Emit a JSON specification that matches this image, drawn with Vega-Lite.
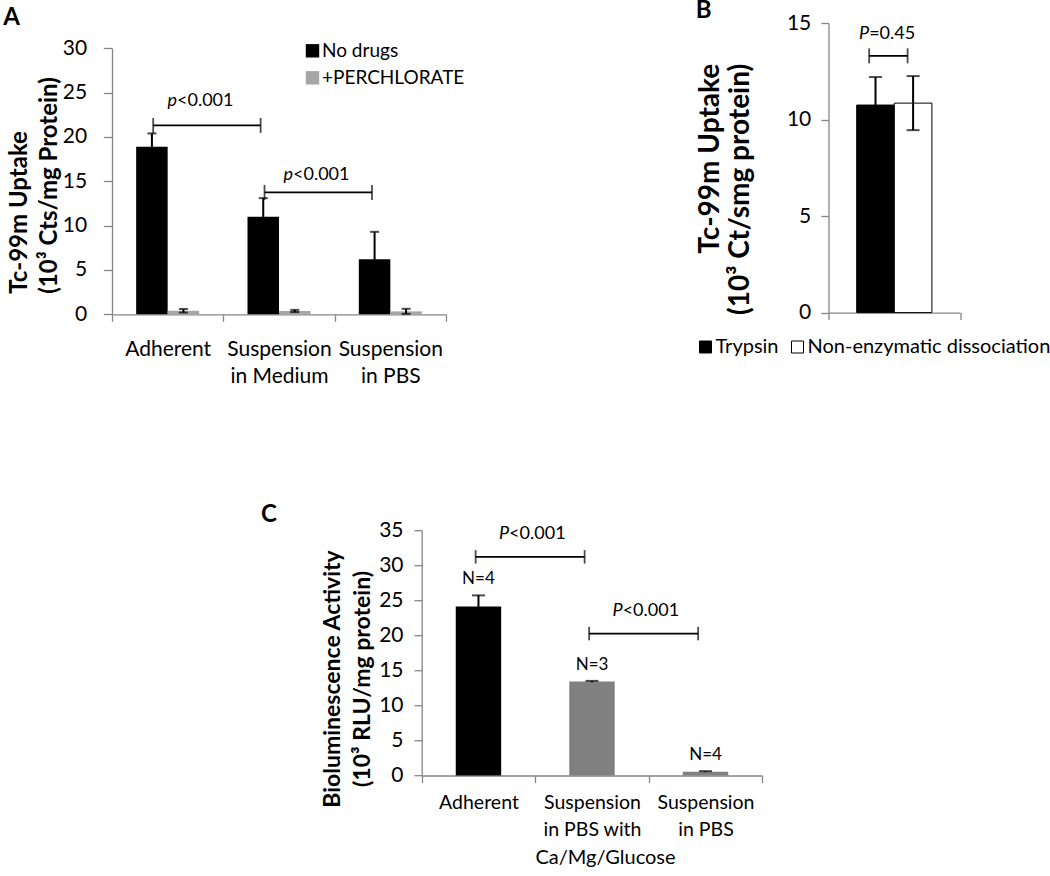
{
  "$schema": "https://vega.github.io/schema/vega-lite/v6.json",
  "background": "white",
  "padding": {"left": 3, "top": -2, "right": 0, "bottom": 0},
  "config": {
    "font": "Lato",
    "view": {"stroke": null},
    "axis": {"domainColor": "#868686", "tickColor": "#868686", "domainWidth": 1.3, "tickWidth": 1.3, "labelColor": "#000000", "titleColor": "#000000", "labelFont": "Lato", "titleFont": "Lato", "grid": false, "labelFontSize": 21},
    "legend": {"labelFont": "Lato", "labelColor": "#000000"},
    "title": {"font": "Lato", "fontSize": 24, "fontWeight": "bold", "color": "#000000", "anchor": "start", "frame": "group"}
  },
  "datasets": {
    "a_bars": [
      {"cat": "Adherent", "series": "No drugs", "value": 18.9, "lo": 17.4, "hi": 20.4},
      {"cat": "Adherent", "series": "+PERCHLORATE", "value": 0.4, "lo": 0.2, "hi": 0.6},
      {"cat": "Suspension in Medium", "series": "No drugs", "value": 11.0, "lo": 8.9, "hi": 13.1},
      {"cat": "Suspension in Medium", "series": "+PERCHLORATE", "value": 0.38, "lo": 0.25, "hi": 0.5},
      {"cat": "Suspension in PBS", "series": "No drugs", "value": 6.2, "lo": 3.1, "hi": 9.3},
      {"cat": "Suspension in PBS", "series": "+PERCHLORATE", "value": 0.33, "lo": 0.05, "hi": 0.62}
    ],
    "a_br": [
      {"id": 1, "from": "Adherent", "to": "Suspension in Medium", "y": 21.3},
      {"id": 2, "from": "Suspension in Medium", "to": "Suspension in PBS", "y": 13.75}
    ],
    "b_bars": [
      {"cat": "Cells", "series": "Trypsin", "value": 10.75, "lo": 9.3, "hi": 12.2},
      {"cat": "Cells", "series": "Non-enzymatic dissociation", "value": 10.85, "lo": 9.45, "hi": 12.25}
    ],
    "b_br": [
      {"from": "Cells", "to": "Cells", "y": 13.3}
    ],
    "c_bars": [
      {"cat": "Adherent", "value": 24.1, "lo": 22.5, "hi": 25.7, "n": "N=4"},
      {"cat": "Suspension in PBS with Ca/Mg/Glucose", "value": 13.4, "lo": 13.3, "hi": 13.5, "n": "N=3"},
      {"cat": "Suspension in PBS", "value": 0.55, "lo": 0.48, "hi": 0.62, "n": "N=4"}
    ],
    "c_br": [
      {"from": "Adherent", "to": "Suspension in PBS with Ca/Mg/Glucose", "y": 31.2},
      {"from": "Suspension in PBS with Ca/Mg/Glucose", "to": "Suspension in PBS", "y": 20.25}
    ]
  },
  "resolve": {
    "scale": {"x": "independent", "y": "independent", "color": "independent", "xOffset": "independent"},
    "axis": {"x": "independent", "y": "independent"},
    "legend": {"color": "independent"}
  },
  "vconcat": [
    {
      "spacing": 230.5,
      "resolve": {
        "scale": {"x": "independent", "y": "independent", "color": "independent", "xOffset": "independent"},
        "axis": {"x": "independent", "y": "independent"},
        "legend": {"color": "independent"}
      },
      "hconcat": [
        {
          "width": 334,
          "height": 291.3,
          "title": {"text": "A", "dx": -108.7, "offset": -25.6, "baseline": "alphabetic"},
          "layer": [
            {
              "data": {"name": "a_bars"},
              "mark": {"type": "bar"},
              "encoding": {
                "x": {"field": "cat", "type": "nominal", "scale": {"domain": ["Adherent", "Suspension in Medium", "Suspension in PBS"], "paddingInner": 0, "paddingOuter": 0},
                  "axis": {"title": null, "labelAngle": 0, "labelFontSize": 21, "labelPadding": 17.5, "labelLineHeight": 27, "tickBand": "extent", "tickSize": 7, "labelExpr": "!datum.value ? '' : datum.value == 'Adherent' ? 'Adherent' : ['Suspension', replace(datum.value, 'Suspension ', '')]"}},
                "xOffset": {"field": "series", "type": "nominal", "scale": {"domain": ["No drugs", "+PERCHLORATE"], "paddingInner": 0, "paddingOuter": 0.767}},
                "y": {"field": "value", "type": "quantitative", "scale": {"domain": [0, 30], "range": [291.3, 25.3], "nice": false},
                  "axis": {"values": [0, 5, 10, 15, 20, 25, 30], "tickSize": 8.7, "labelPadding": 16.6, "labelFontSize": 21, "title": ["Tc-99m Uptake", "(10³ Cts/mg Protein)"], "titleFontSize": 24, "titleFontWeight": "bold", "titleLineHeight": 30, "titleAlign": "left", "titleX": -81, "titleY": 270.3, "titlePadding": 5}},
                "color": {"field": "series", "type": "nominal", "scale": {"domain": ["No drugs", "+PERCHLORATE"], "range": ["#000000", "#a6a6a6"]},
                  "legend": {"title": null, "orient": "none", "legendX": 191, "legendY": 18.3, "symbolType": "square", "symbolSize": 180, "symbolStrokeWidth": 0, "labelFontSize": 19, "rowPadding": 7, "labelOffset": 0}}
              }
            },
            {
              "data": {"name": "a_bars"},
              "mark": {"type": "rule", "color": "#000000", "strokeWidth": 2},
              "encoding": {
                "x": {"field": "cat", "type": "nominal", "scale": {"domain": ["Adherent", "Suspension in Medium", "Suspension in PBS"], "paddingInner": 0, "paddingOuter": 0},
                  "axis": {"title": null, "labelAngle": 0, "labelFontSize": 21, "labelPadding": 17.5, "labelLineHeight": 27, "tickBand": "extent", "tickSize": 7, "labelExpr": "!datum.value ? '' : datum.value == 'Adherent' ? 'Adherent' : ['Suspension', replace(datum.value, 'Suspension ', '')]"}},
                "xOffset": {"field": "series", "type": "nominal", "scale": {"domain": ["No drugs", "+PERCHLORATE"], "paddingInner": 0, "paddingOuter": 0.767}},
                "y": {"field": "lo", "type": "quantitative", "scale": {"domain": [0, 30], "range": [291.3, 25.3], "nice": false},
                  "axis": {"values": [0, 5, 10, 15, 20, 25, 30], "tickSize": 8.7, "labelPadding": 16.6, "labelFontSize": 21, "title": ["Tc-99m Uptake", "(10³ Cts/mg Protein)"], "titleFontSize": 24, "titleFontWeight": "bold", "titleLineHeight": 30, "titleAlign": "left", "titleX": -81, "titleY": 270.3, "titlePadding": 5}},
                "y2": {"field": "hi"}
              }
            },
            {
              "data": {"name": "a_bars"},
              "mark": {"type": "tick", "color": "#000000", "size": 9, "thickness": 2},
              "encoding": {
                "x": {"field": "cat", "type": "nominal", "scale": {"domain": ["Adherent", "Suspension in Medium", "Suspension in PBS"], "paddingInner": 0, "paddingOuter": 0},
                  "axis": {"title": null, "labelAngle": 0, "labelFontSize": 21, "labelPadding": 17.5, "labelLineHeight": 27, "tickBand": "extent", "tickSize": 7, "labelExpr": "!datum.value ? '' : datum.value == 'Adherent' ? 'Adherent' : ['Suspension', replace(datum.value, 'Suspension ', '')]"}},
                "xOffset": {"field": "series", "type": "nominal", "scale": {"domain": ["No drugs", "+PERCHLORATE"], "paddingInner": 0, "paddingOuter": 0.767}},
                "y": {"field": "hi", "type": "quantitative", "scale": {"domain": [0, 30], "range": [291.3, 25.3], "nice": false},
                  "axis": {"values": [0, 5, 10, 15, 20, 25, 30], "tickSize": 8.7, "labelPadding": 16.6, "labelFontSize": 21, "title": ["Tc-99m Uptake", "(10³ Cts/mg Protein)"], "titleFontSize": 24, "titleFontWeight": "bold", "titleLineHeight": 30, "titleAlign": "left", "titleX": -81, "titleY": 270.3, "titlePadding": 5}}
              }
            },
            {
              "data": {"name": "a_bars"},
              "mark": {"type": "tick", "color": "#000000", "size": 9, "thickness": 2},
              "encoding": {
                "x": {"field": "cat", "type": "nominal", "scale": {"domain": ["Adherent", "Suspension in Medium", "Suspension in PBS"], "paddingInner": 0, "paddingOuter": 0},
                  "axis": {"title": null, "labelAngle": 0, "labelFontSize": 21, "labelPadding": 17.5, "labelLineHeight": 27, "tickBand": "extent", "tickSize": 7, "labelExpr": "!datum.value ? '' : datum.value == 'Adherent' ? 'Adherent' : ['Suspension', replace(datum.value, 'Suspension ', '')]"}},
                "xOffset": {"field": "series", "type": "nominal", "scale": {"domain": ["No drugs", "+PERCHLORATE"], "paddingInner": 0, "paddingOuter": 0.767}},
                "y": {"field": "lo", "type": "quantitative", "scale": {"domain": [0, 30], "range": [291.3, 25.3], "nice": false},
                  "axis": {"values": [0, 5, 10, 15, 20, 25, 30], "tickSize": 8.7, "labelPadding": 16.6, "labelFontSize": 21, "title": ["Tc-99m Uptake", "(10³ Cts/mg Protein)"], "titleFontSize": 24, "titleFontWeight": "bold", "titleLineHeight": 30, "titleAlign": "left", "titleX": -81, "titleY": 270.3, "titlePadding": 5}}
              }
            },
            {
              "data": {"name": "a_br"},
              "mark": {"type": "rule", "color": "#000000", "strokeWidth": 1.8},
              "encoding": {
                "x": {"field": "from", "type": "nominal", "bandPosition": 0.37, "scale": {"domain": ["Adherent", "Suspension in Medium", "Suspension in PBS"], "paddingInner": 0, "paddingOuter": 0},
                  "axis": {"title": null, "labelAngle": 0, "labelFontSize": 21, "labelPadding": 17.5, "labelLineHeight": 27, "tickBand": "extent", "tickSize": 7, "labelExpr": "!datum.value ? '' : datum.value == 'Adherent' ? 'Adherent' : ['Suspension', replace(datum.value, 'Suspension ', '')]"}},
                "x2": {"field": "to", "bandPosition": 0.335},
                "y": {"field": "y", "type": "quantitative", "scale": {"domain": [0, 30], "range": [291.3, 25.3], "nice": false},
                  "axis": {"values": [0, 5, 10, 15, 20, 25, 30], "tickSize": 8.7, "labelPadding": 16.6, "labelFontSize": 21, "title": ["Tc-99m Uptake", "(10³ Cts/mg Protein)"], "titleFontSize": 24, "titleFontWeight": "bold", "titleLineHeight": 30, "titleAlign": "left", "titleX": -81, "titleY": 270.3, "titlePadding": 5}}
              }
            },
            {
              "data": {"name": "a_br"},
              "mark": {"type": "tick", "orient": "vertical", "color": "#000000", "size": 15, "thickness": 1.8},
              "encoding": {
                "x": {"field": "from", "type": "nominal", "bandPosition": 0.37, "scale": {"domain": ["Adherent", "Suspension in Medium", "Suspension in PBS"], "paddingInner": 0, "paddingOuter": 0},
                  "axis": {"title": null, "labelAngle": 0, "labelFontSize": 21, "labelPadding": 17.5, "labelLineHeight": 27, "tickBand": "extent", "tickSize": 7, "labelExpr": "!datum.value ? '' : datum.value == 'Adherent' ? 'Adherent' : ['Suspension', replace(datum.value, 'Suspension ', '')]"}},
                "y": {"field": "y", "type": "quantitative", "scale": {"domain": [0, 30], "range": [291.3, 25.3], "nice": false},
                  "axis": {"values": [0, 5, 10, 15, 20, 25, 30], "tickSize": 8.7, "labelPadding": 16.6, "labelFontSize": 21, "title": ["Tc-99m Uptake", "(10³ Cts/mg Protein)"], "titleFontSize": 24, "titleFontWeight": "bold", "titleLineHeight": 30, "titleAlign": "left", "titleX": -81, "titleY": 270.3, "titlePadding": 5}}
              }
            },
            {
              "data": {"name": "a_br"},
              "mark": {"type": "tick", "orient": "vertical", "color": "#000000", "size": 15, "thickness": 1.8},
              "encoding": {
                "x": {"field": "to", "type": "nominal", "bandPosition": 0.335, "scale": {"domain": ["Adherent", "Suspension in Medium", "Suspension in PBS"], "paddingInner": 0, "paddingOuter": 0},
                  "axis": {"title": null, "labelAngle": 0, "labelFontSize": 21, "labelPadding": 17.5, "labelLineHeight": 27, "tickBand": "extent", "tickSize": 7, "labelExpr": "!datum.value ? '' : datum.value == 'Adherent' ? 'Adherent' : ['Suspension', replace(datum.value, 'Suspension ', '')]"}},
                "y": {"field": "y", "type": "quantitative", "scale": {"domain": [0, 30], "range": [291.3, 25.3], "nice": false},
                  "axis": {"values": [0, 5, 10, 15, 20, 25, 30], "tickSize": 8.7, "labelPadding": 16.6, "labelFontSize": 21, "title": ["Tc-99m Uptake", "(10³ Cts/mg Protein)"], "titleFontSize": 24, "titleFontWeight": "bold", "titleLineHeight": 30, "titleAlign": "left", "titleX": -81, "titleY": 270.3, "titlePadding": 5}}
              }
            },
            {
              "data": {"name": "a_br"},
              "transform": [{"filter": "datum.id == 1"}],
              "mark": {"type": "text", "text": "p", "fontStyle": "italic", "fontSize": 18, "align": "right", "baseline": "alphabetic", "dy": -19.5},
              "encoding": {
                "x": {"field": "from", "type": "nominal", "bandPosition": 0.584, "scale": {"domain": ["Adherent", "Suspension in Medium", "Suspension in PBS"], "paddingInner": 0, "paddingOuter": 0},
                  "axis": {"title": null, "labelAngle": 0, "labelFontSize": 21, "labelPadding": 17.5, "labelLineHeight": 27, "tickBand": "extent", "tickSize": 7, "labelExpr": "!datum.value ? '' : datum.value == 'Adherent' ? 'Adherent' : ['Suspension', replace(datum.value, 'Suspension ', '')]"}},
                "y": {"field": "y", "type": "quantitative", "scale": {"domain": [0, 30], "range": [291.3, 25.3], "nice": false},
                  "axis": {"values": [0, 5, 10, 15, 20, 25, 30], "tickSize": 8.7, "labelPadding": 16.6, "labelFontSize": 21, "title": ["Tc-99m Uptake", "(10³ Cts/mg Protein)"], "titleFontSize": 24, "titleFontWeight": "bold", "titleLineHeight": 30, "titleAlign": "left", "titleX": -81, "titleY": 270.3, "titlePadding": 5}}
              }
            },
            {
              "data": {"name": "a_br"},
              "transform": [{"filter": "datum.id == 1"}],
              "mark": {"type": "text", "text": "<0.001", "fontSize": 18, "align": "left", "baseline": "alphabetic", "dy": -19.5},
              "encoding": {
                "x": {"field": "from", "type": "nominal", "bandPosition": 0.584, "scale": {"domain": ["Adherent", "Suspension in Medium", "Suspension in PBS"], "paddingInner": 0, "paddingOuter": 0},
                  "axis": {"title": null, "labelAngle": 0, "labelFontSize": 21, "labelPadding": 17.5, "labelLineHeight": 27, "tickBand": "extent", "tickSize": 7, "labelExpr": "!datum.value ? '' : datum.value == 'Adherent' ? 'Adherent' : ['Suspension', replace(datum.value, 'Suspension ', '')]"}},
                "y": {"field": "y", "type": "quantitative", "scale": {"domain": [0, 30], "range": [291.3, 25.3], "nice": false},
                  "axis": {"values": [0, 5, 10, 15, 20, 25, 30], "tickSize": 8.7, "labelPadding": 16.6, "labelFontSize": 21, "title": ["Tc-99m Uptake", "(10³ Cts/mg Protein)"], "titleFontSize": 24, "titleFontWeight": "bold", "titleLineHeight": 30, "titleAlign": "left", "titleX": -81, "titleY": 270.3, "titlePadding": 5}}
              }
            },
            {
              "data": {"name": "a_br"},
              "transform": [{"filter": "datum.id == 2"}],
              "mark": {"type": "text", "text": "p", "fontStyle": "italic", "fontSize": 18, "align": "right", "baseline": "alphabetic", "dy": -12.7},
              "encoding": {
                "x": {"field": "from", "type": "nominal", "bandPosition": 0.626, "scale": {"domain": ["Adherent", "Suspension in Medium", "Suspension in PBS"], "paddingInner": 0, "paddingOuter": 0},
                  "axis": {"title": null, "labelAngle": 0, "labelFontSize": 21, "labelPadding": 17.5, "labelLineHeight": 27, "tickBand": "extent", "tickSize": 7, "labelExpr": "!datum.value ? '' : datum.value == 'Adherent' ? 'Adherent' : ['Suspension', replace(datum.value, 'Suspension ', '')]"}},
                "y": {"field": "y", "type": "quantitative", "scale": {"domain": [0, 30], "range": [291.3, 25.3], "nice": false},
                  "axis": {"values": [0, 5, 10, 15, 20, 25, 30], "tickSize": 8.7, "labelPadding": 16.6, "labelFontSize": 21, "title": ["Tc-99m Uptake", "(10³ Cts/mg Protein)"], "titleFontSize": 24, "titleFontWeight": "bold", "titleLineHeight": 30, "titleAlign": "left", "titleX": -81, "titleY": 270.3, "titlePadding": 5}}
              }
            },
            {
              "data": {"name": "a_br"},
              "transform": [{"filter": "datum.id == 2"}],
              "mark": {"type": "text", "text": "<0.001", "fontSize": 18, "align": "left", "baseline": "alphabetic", "dy": -12.7},
              "encoding": {
                "x": {"field": "from", "type": "nominal", "bandPosition": 0.626, "scale": {"domain": ["Adherent", "Suspension in Medium", "Suspension in PBS"], "paddingInner": 0, "paddingOuter": 0},
                  "axis": {"title": null, "labelAngle": 0, "labelFontSize": 21, "labelPadding": 17.5, "labelLineHeight": 27, "tickBand": "extent", "tickSize": 7, "labelExpr": "!datum.value ? '' : datum.value == 'Adherent' ? 'Adherent' : ['Suspension', replace(datum.value, 'Suspension ', '')]"}},
                "y": {"field": "y", "type": "quantitative", "scale": {"domain": [0, 30], "range": [291.3, 25.3], "nice": false},
                  "axis": {"values": [0, 5, 10, 15, 20, 25, 30], "tickSize": 8.7, "labelPadding": 16.6, "labelFontSize": 21, "title": ["Tc-99m Uptake", "(10³ Cts/mg Protein)"], "titleFontSize": 24, "titleFontWeight": "bold", "titleLineHeight": 30, "titleAlign": "left", "titleX": -81, "titleY": 270.3, "titlePadding": 5}}
              }
            }
          ]
        },
        {
          "width": 131.6,
          "height": 289.6,
          "title": {"text": "B", "dx": -132.7, "offset": -29.5, "baseline": "alphabetic"},
          "layer": [
            {
              "data": {"name": "b_bars"},
              "mark": {"type": "bar", "stroke": "#000000", "strokeWidth": 1},
              "encoding": {
                "x": {"field": "cat", "type": "nominal", "scale": {"domain": ["Cells"], "paddingInner": 0, "paddingOuter": 0}, "axis": {"title": null, "labels": false, "tickBand": "extent", "tickSize": 7}},
                "xOffset": {"field": "series", "type": "nominal", "scale": {"domain": ["Trypsin", "Non-enzymatic dissociation"], "paddingInner": 0, "paddingOuter": 0.75}},
                "y": {"field": "value", "type": "quantitative", "scale": {"domain": [0, 15], "nice": false},
                  "axis": {"values": [0, 5, 10, 15], "tickSize": 7.7, "labelPadding": 10, "labelFontSize": 21, "title": ["Tc-99m Uptake", "(10³ Ct/smg protein)"], "titleFontSize": 28, "titleFontWeight": "bold", "titleLineHeight": 30, "titleAlign": "right", "titleX": -104, "titleY": 40.3, "titlePadding": 22}},
                "color": {"field": "series", "type": "nominal", "scale": {"domain": ["Trypsin", "Non-enzymatic dissociation"], "range": ["#000000", "#ffffff"]},
                  "legend": {"title": null, "orient": "none", "direction": "horizontal", "legendX": -133, "legendY": 314, "symbolType": "square", "symbolSize": 144, "symbolStrokeColor": "#000000", "symbolStrokeWidth": 1, "labelFontSize": 20, "labelOffset": 0, "columnPadding": 8, "labelLimit": 400}}
              }
            },
            {
              "data": {"name": "b_bars"},
              "mark": {"type": "rule", "color": "#000000", "strokeWidth": 2},
              "encoding": {
                "x": {"field": "cat", "type": "nominal", "scale": {"domain": ["Cells"], "paddingInner": 0, "paddingOuter": 0}, "axis": {"title": null, "labels": false, "tickBand": "extent", "tickSize": 7}},
                "xOffset": {"field": "series", "type": "nominal", "scale": {"domain": ["Trypsin", "Non-enzymatic dissociation"], "paddingInner": 0, "paddingOuter": 0.75}},
                "y": {"field": "lo", "type": "quantitative", "scale": {"domain": [0, 15], "nice": false},
                  "axis": {"values": [0, 5, 10, 15], "tickSize": 7.7, "labelPadding": 10, "labelFontSize": 21, "title": ["Tc-99m Uptake", "(10³ Ct/smg protein)"], "titleFontSize": 28, "titleFontWeight": "bold", "titleLineHeight": 30, "titleAlign": "right", "titleX": -104, "titleY": 40.3, "titlePadding": 22}},
                "y2": {"field": "hi"}
              }
            },
            {
              "data": {"name": "b_bars"},
              "mark": {"type": "tick", "color": "#000000", "size": 13, "thickness": 2},
              "encoding": {
                "x": {"field": "cat", "type": "nominal", "scale": {"domain": ["Cells"], "paddingInner": 0, "paddingOuter": 0}, "axis": {"title": null, "labels": false, "tickBand": "extent", "tickSize": 7}},
                "xOffset": {"field": "series", "type": "nominal", "scale": {"domain": ["Trypsin", "Non-enzymatic dissociation"], "paddingInner": 0, "paddingOuter": 0.75}},
                "y": {"field": "hi", "type": "quantitative", "scale": {"domain": [0, 15], "nice": false},
                  "axis": {"values": [0, 5, 10, 15], "tickSize": 7.7, "labelPadding": 10, "labelFontSize": 21, "title": ["Tc-99m Uptake", "(10³ Ct/smg protein)"], "titleFontSize": 28, "titleFontWeight": "bold", "titleLineHeight": 30, "titleAlign": "right", "titleX": -104, "titleY": 40.3, "titlePadding": 22}}
              }
            },
            {
              "data": {"name": "b_bars"},
              "mark": {"type": "tick", "color": "#000000", "size": 13, "thickness": 2},
              "encoding": {
                "x": {"field": "cat", "type": "nominal", "scale": {"domain": ["Cells"], "paddingInner": 0, "paddingOuter": 0}, "axis": {"title": null, "labels": false, "tickBand": "extent", "tickSize": 7}},
                "xOffset": {"field": "series", "type": "nominal", "scale": {"domain": ["Trypsin", "Non-enzymatic dissociation"], "paddingInner": 0, "paddingOuter": 0.75}},
                "y": {"field": "lo", "type": "quantitative", "scale": {"domain": [0, 15], "nice": false},
                  "axis": {"values": [0, 5, 10, 15], "tickSize": 7.7, "labelPadding": 10, "labelFontSize": 21, "title": ["Tc-99m Uptake", "(10³ Ct/smg protein)"], "titleFontSize": 28, "titleFontWeight": "bold", "titleLineHeight": 30, "titleAlign": "right", "titleX": -104, "titleY": 40.3, "titlePadding": 22}}
              }
            },
            {
              "data": {"name": "b_br"},
              "mark": {"type": "rule", "color": "#000000", "strokeWidth": 1.8},
              "encoding": {
                "x": {"field": "from", "type": "nominal", "bandPosition": 0.309, "scale": {"domain": ["Cells"], "paddingInner": 0, "paddingOuter": 0}, "axis": {"title": null, "labels": false, "tickBand": "extent", "tickSize": 7}},
                "x2": {"field": "to", "bandPosition": 0.601},
                "y": {"field": "y", "type": "quantitative", "scale": {"domain": [0, 15], "nice": false},
                  "axis": {"values": [0, 5, 10, 15], "tickSize": 7.7, "labelPadding": 10, "labelFontSize": 21, "title": ["Tc-99m Uptake", "(10³ Ct/smg protein)"], "titleFontSize": 28, "titleFontWeight": "bold", "titleLineHeight": 30, "titleAlign": "right", "titleX": -104, "titleY": 40.3, "titlePadding": 22}}
              }
            },
            {
              "data": {"name": "b_br"},
              "mark": {"type": "tick", "orient": "vertical", "color": "#000000", "size": 15, "thickness": 1.8},
              "encoding": {
                "x": {"field": "from", "type": "nominal", "bandPosition": 0.309, "scale": {"domain": ["Cells"], "paddingInner": 0, "paddingOuter": 0}, "axis": {"title": null, "labels": false, "tickBand": "extent", "tickSize": 7}},
                "y": {"field": "y", "type": "quantitative", "scale": {"domain": [0, 15], "nice": false},
                  "axis": {"values": [0, 5, 10, 15], "tickSize": 7.7, "labelPadding": 10, "labelFontSize": 21, "title": ["Tc-99m Uptake", "(10³ Ct/smg protein)"], "titleFontSize": 28, "titleFontWeight": "bold", "titleLineHeight": 30, "titleAlign": "right", "titleX": -104, "titleY": 40.3, "titlePadding": 22}}
              }
            },
            {
              "data": {"name": "b_br"},
              "mark": {"type": "tick", "orient": "vertical", "color": "#000000", "size": 15, "thickness": 1.8},
              "encoding": {
                "x": {"field": "to", "type": "nominal", "bandPosition": 0.601, "scale": {"domain": ["Cells"], "paddingInner": 0, "paddingOuter": 0}, "axis": {"title": null, "labels": false, "tickBand": "extent", "tickSize": 7}},
                "y": {"field": "y", "type": "quantitative", "scale": {"domain": [0, 15], "nice": false},
                  "axis": {"values": [0, 5, 10, 15], "tickSize": 7.7, "labelPadding": 10, "labelFontSize": 21, "title": ["Tc-99m Uptake", "(10³ Ct/smg protein)"], "titleFontSize": 28, "titleFontWeight": "bold", "titleLineHeight": 30, "titleAlign": "right", "titleX": -104, "titleY": 40.3, "titlePadding": 22}}
              }
            },
            {
              "data": {"name": "b_br"},
              "mark": {"type": "text", "text": "P", "fontStyle": "italic", "fontSize": 18, "align": "right", "baseline": "alphabetic", "dy": -17.3},
              "encoding": {
                "x": {"field": "from", "type": "nominal", "bandPosition": 0.309, "scale": {"domain": ["Cells"], "paddingInner": 0, "paddingOuter": 0}, "axis": {"title": null, "labels": false, "tickBand": "extent", "tickSize": 7}},
                "y": {"field": "y", "type": "quantitative", "scale": {"domain": [0, 15], "nice": false},
                  "axis": {"values": [0, 5, 10, 15], "tickSize": 7.7, "labelPadding": 10, "labelFontSize": 21, "title": ["Tc-99m Uptake", "(10³ Ct/smg protein)"], "titleFontSize": 28, "titleFontWeight": "bold", "titleLineHeight": 30, "titleAlign": "right", "titleX": -104, "titleY": 40.3, "titlePadding": 22}}
              }
            },
            {
              "data": {"name": "b_br"},
              "mark": {"type": "text", "text": "=0.45", "fontSize": 18, "align": "left", "baseline": "alphabetic", "dy": -17.3},
              "encoding": {
                "x": {"field": "from", "type": "nominal", "bandPosition": 0.309, "scale": {"domain": ["Cells"], "paddingInner": 0, "paddingOuter": 0}, "axis": {"title": null, "labels": false, "tickBand": "extent", "tickSize": 7}},
                "y": {"field": "y", "type": "quantitative", "scale": {"domain": [0, 15], "nice": false},
                  "axis": {"values": [0, 5, 10, 15], "tickSize": 7.7, "labelPadding": 10, "labelFontSize": 21, "title": ["Tc-99m Uptake", "(10³ Ct/smg protein)"], "titleFontSize": 28, "titleFontWeight": "bold", "titleLineHeight": 30, "titleAlign": "right", "titleX": -104, "titleY": 40.3, "titlePadding": 22}}
              }
            }
          ]
        }
      ]
    },
    {
      "width": 650.3,
      "height": 245.3,
      "title": {"text": "C", "dx": 149, "offset": -26.5, "baseline": "alphabetic"},
      "layer": [
        {
          "data": {"name": "c_bars"},
          "mark": {"type": "bar", "width": {"band": 0.4}},
          "encoding": {
            "x": {"field": "cat", "type": "nominal", "scale": {"domain": ["Adherent", "Suspension in PBS with Ca/Mg/Glucose", "Suspension in PBS"], "paddingInner": 0, "paddingOuter": 0, "range": [309.7, 650.3]},
              "axis": {"title": "Ca/Mg/Glucose", "titleFontSize": 20, "titleFontWeight": "normal", "titleX": 493, "titleY": 88.4, "titleAlign": "center", "titleBaseline": "alphabetic", "labelAngle": 0, "labelFontSize": 19.5, "labelPadding": 10.5, "labelLineHeight": 27, "tickBand": "extent", "tickSize": 7, "labelExpr": "!datum.value ? '' : datum.value == 'Adherent' ? 'Adherent' : datum.value == 'Suspension in PBS' ? ['Suspension', 'in PBS'] : ['Suspension', 'in PBS with']"}},
            "y": {"field": "value", "type": "quantitative", "scale": {"domain": [0, 35], "nice": false},
              "axis": {"offset": -309.7, "values": [0, 5, 10, 15, 20, 25, 30, 35], "tickSize": 7.7, "labelPadding": 11, "labelFontSize": 21, "title": ["Bioluminescence Activity", "(10³ RLU/mg protein)"], "titleFontSize": 23, "titleFontWeight": "bold", "titleLineHeight": 30, "titleAlign": "center", "titleX": -77.7, "titleY": 148.3, "titlePadding": 6}},
            "color": {"field": "cat", "type": "nominal", "scale": {"domain": ["Adherent", "Suspension in PBS with Ca/Mg/Glucose", "Suspension in PBS"], "range": ["#000000", "#808080", "#808080"]}, "legend": null}
          }
        },
        {
          "data": {"name": "c_bars"},
          "mark": {"type": "rule", "color": "#000000", "strokeWidth": 2},
          "encoding": {
            "x": {"field": "cat", "type": "nominal", "scale": {"domain": ["Adherent", "Suspension in PBS with Ca/Mg/Glucose", "Suspension in PBS"], "paddingInner": 0, "paddingOuter": 0, "range": [309.7, 650.3]},
              "axis": {"title": "Ca/Mg/Glucose", "titleFontSize": 20, "titleFontWeight": "normal", "titleX": 493, "titleY": 88.4, "titleAlign": "center", "titleBaseline": "alphabetic", "labelAngle": 0, "labelFontSize": 19.5, "labelPadding": 10.5, "labelLineHeight": 27, "tickBand": "extent", "tickSize": 7, "labelExpr": "!datum.value ? '' : datum.value == 'Adherent' ? 'Adherent' : datum.value == 'Suspension in PBS' ? ['Suspension', 'in PBS'] : ['Suspension', 'in PBS with']"}},
            "y": {"field": "lo", "type": "quantitative", "scale": {"domain": [0, 35], "nice": false},
              "axis": {"offset": -309.7, "values": [0, 5, 10, 15, 20, 25, 30, 35], "tickSize": 7.7, "labelPadding": 11, "labelFontSize": 21, "title": ["Bioluminescence Activity", "(10³ RLU/mg protein)"], "titleFontSize": 23, "titleFontWeight": "bold", "titleLineHeight": 30, "titleAlign": "center", "titleX": -77.7, "titleY": 148.3, "titlePadding": 6}},
            "y2": {"field": "hi"}
          }
        },
        {
          "data": {"name": "c_bars"},
          "mark": {"type": "tick", "color": "#000000", "size": 13, "thickness": 2},
          "encoding": {
            "x": {"field": "cat", "type": "nominal", "scale": {"domain": ["Adherent", "Suspension in PBS with Ca/Mg/Glucose", "Suspension in PBS"], "paddingInner": 0, "paddingOuter": 0, "range": [309.7, 650.3]},
              "axis": {"title": "Ca/Mg/Glucose", "titleFontSize": 20, "titleFontWeight": "normal", "titleX": 493, "titleY": 88.4, "titleAlign": "center", "titleBaseline": "alphabetic", "labelAngle": 0, "labelFontSize": 19.5, "labelPadding": 10.5, "labelLineHeight": 27, "tickBand": "extent", "tickSize": 7, "labelExpr": "!datum.value ? '' : datum.value == 'Adherent' ? 'Adherent' : datum.value == 'Suspension in PBS' ? ['Suspension', 'in PBS'] : ['Suspension', 'in PBS with']"}},
            "y": {"field": "hi", "type": "quantitative", "scale": {"domain": [0, 35], "nice": false},
              "axis": {"offset": -309.7, "values": [0, 5, 10, 15, 20, 25, 30, 35], "tickSize": 7.7, "labelPadding": 11, "labelFontSize": 21, "title": ["Bioluminescence Activity", "(10³ RLU/mg protein)"], "titleFontSize": 23, "titleFontWeight": "bold", "titleLineHeight": 30, "titleAlign": "center", "titleX": -77.7, "titleY": 148.3, "titlePadding": 6}}
          }
        },
        {
          "data": {"name": "c_bars"},
          "mark": {"type": "text", "fontSize": 17, "align": "center", "baseline": "alphabetic", "dy": -11},
          "encoding": {
            "x": {"field": "cat", "type": "nominal", "scale": {"domain": ["Adherent", "Suspension in PBS with Ca/Mg/Glucose", "Suspension in PBS"], "paddingInner": 0, "paddingOuter": 0, "range": [309.7, 650.3]},
              "axis": {"title": "Ca/Mg/Glucose", "titleFontSize": 20, "titleFontWeight": "normal", "titleX": 493, "titleY": 88.4, "titleAlign": "center", "titleBaseline": "alphabetic", "labelAngle": 0, "labelFontSize": 19.5, "labelPadding": 10.5, "labelLineHeight": 27, "tickBand": "extent", "tickSize": 7, "labelExpr": "!datum.value ? '' : datum.value == 'Adherent' ? 'Adherent' : datum.value == 'Suspension in PBS' ? ['Suspension', 'in PBS'] : ['Suspension', 'in PBS with']"}},
            "y": {"field": "hi", "type": "quantitative", "scale": {"domain": [0, 35], "nice": false},
              "axis": {"offset": -309.7, "values": [0, 5, 10, 15, 20, 25, 30, 35], "tickSize": 7.7, "labelPadding": 11, "labelFontSize": 21, "title": ["Bioluminescence Activity", "(10³ RLU/mg protein)"], "titleFontSize": 23, "titleFontWeight": "bold", "titleLineHeight": 30, "titleAlign": "center", "titleX": -77.7, "titleY": 148.3, "titlePadding": 6}},
            "text": {"field": "n", "type": "nominal"}
          }
        },
        {
          "data": {"name": "c_br"},
          "mark": {"type": "rule", "color": "#000000", "strokeWidth": 1.8},
          "encoding": {
            "x": {"field": "from", "type": "nominal", "bandPosition": 0.475, "scale": {"domain": ["Adherent", "Suspension in PBS with Ca/Mg/Glucose", "Suspension in PBS"], "paddingInner": 0, "paddingOuter": 0, "range": [309.7, 650.3]},
              "axis": {"title": "Ca/Mg/Glucose", "titleFontSize": 20, "titleFontWeight": "normal", "titleX": 493, "titleY": 88.4, "titleAlign": "center", "titleBaseline": "alphabetic", "labelAngle": 0, "labelFontSize": 19.5, "labelPadding": 10.5, "labelLineHeight": 27, "tickBand": "extent", "tickSize": 7, "labelExpr": "!datum.value ? '' : datum.value == 'Adherent' ? 'Adherent' : datum.value == 'Suspension in PBS' ? ['Suspension', 'in PBS'] : ['Suspension', 'in PBS with']"}},
            "x2": {"field": "to", "bandPosition": 0.435},
            "y": {"field": "y", "type": "quantitative", "scale": {"domain": [0, 35], "nice": false},
              "axis": {"offset": -309.7, "values": [0, 5, 10, 15, 20, 25, 30, 35], "tickSize": 7.7, "labelPadding": 11, "labelFontSize": 21, "title": ["Bioluminescence Activity", "(10³ RLU/mg protein)"], "titleFontSize": 23, "titleFontWeight": "bold", "titleLineHeight": 30, "titleAlign": "center", "titleX": -77.7, "titleY": 148.3, "titlePadding": 6}}
          }
        },
        {
          "data": {"name": "c_br"},
          "mark": {"type": "tick", "orient": "vertical", "color": "#000000", "size": 13.5, "thickness": 1.8},
          "encoding": {
            "x": {"field": "from", "type": "nominal", "bandPosition": 0.475, "scale": {"domain": ["Adherent", "Suspension in PBS with Ca/Mg/Glucose", "Suspension in PBS"], "paddingInner": 0, "paddingOuter": 0, "range": [309.7, 650.3]},
              "axis": {"title": "Ca/Mg/Glucose", "titleFontSize": 20, "titleFontWeight": "normal", "titleX": 493, "titleY": 88.4, "titleAlign": "center", "titleBaseline": "alphabetic", "labelAngle": 0, "labelFontSize": 19.5, "labelPadding": 10.5, "labelLineHeight": 27, "tickBand": "extent", "tickSize": 7, "labelExpr": "!datum.value ? '' : datum.value == 'Adherent' ? 'Adherent' : datum.value == 'Suspension in PBS' ? ['Suspension', 'in PBS'] : ['Suspension', 'in PBS with']"}},
            "y": {"field": "y", "type": "quantitative", "scale": {"domain": [0, 35], "nice": false},
              "axis": {"offset": -309.7, "values": [0, 5, 10, 15, 20, 25, 30, 35], "tickSize": 7.7, "labelPadding": 11, "labelFontSize": 21, "title": ["Bioluminescence Activity", "(10³ RLU/mg protein)"], "titleFontSize": 23, "titleFontWeight": "bold", "titleLineHeight": 30, "titleAlign": "center", "titleX": -77.7, "titleY": 148.3, "titlePadding": 6}}
          }
        },
        {
          "data": {"name": "c_br"},
          "mark": {"type": "tick", "orient": "vertical", "color": "#000000", "size": 13.5, "thickness": 1.8},
          "encoding": {
            "x": {"field": "to", "type": "nominal", "bandPosition": 0.435, "scale": {"domain": ["Adherent", "Suspension in PBS with Ca/Mg/Glucose", "Suspension in PBS"], "paddingInner": 0, "paddingOuter": 0, "range": [309.7, 650.3]},
              "axis": {"title": "Ca/Mg/Glucose", "titleFontSize": 20, "titleFontWeight": "normal", "titleX": 493, "titleY": 88.4, "titleAlign": "center", "titleBaseline": "alphabetic", "labelAngle": 0, "labelFontSize": 19.5, "labelPadding": 10.5, "labelLineHeight": 27, "tickBand": "extent", "tickSize": 7, "labelExpr": "!datum.value ? '' : datum.value == 'Adherent' ? 'Adherent' : datum.value == 'Suspension in PBS' ? ['Suspension', 'in PBS'] : ['Suspension', 'in PBS with']"}},
            "y": {"field": "y", "type": "quantitative", "scale": {"domain": [0, 35], "nice": false},
              "axis": {"offset": -309.7, "values": [0, 5, 10, 15, 20, 25, 30, 35], "tickSize": 7.7, "labelPadding": 11, "labelFontSize": 21, "title": ["Bioluminescence Activity", "(10³ RLU/mg protein)"], "titleFontSize": 23, "titleFontWeight": "bold", "titleLineHeight": 30, "titleAlign": "center", "titleX": -77.7, "titleY": 148.3, "titlePadding": 6}}
          }
        },
        {
          "data": {"name": "c_br"},
          "mark": {"type": "text", "text": "P", "fontStyle": "italic", "fontSize": 18, "align": "right", "baseline": "alphabetic", "dy": -18},
          "encoding": {
            "x": {"field": "from", "type": "nominal", "bandPosition": 0.77, "scale": {"domain": ["Adherent", "Suspension in PBS with Ca/Mg/Glucose", "Suspension in PBS"], "paddingInner": 0, "paddingOuter": 0, "range": [309.7, 650.3]},
              "axis": {"title": "Ca/Mg/Glucose", "titleFontSize": 20, "titleFontWeight": "normal", "titleX": 493, "titleY": 88.4, "titleAlign": "center", "titleBaseline": "alphabetic", "labelAngle": 0, "labelFontSize": 19.5, "labelPadding": 10.5, "labelLineHeight": 27, "tickBand": "extent", "tickSize": 7, "labelExpr": "!datum.value ? '' : datum.value == 'Adherent' ? 'Adherent' : datum.value == 'Suspension in PBS' ? ['Suspension', 'in PBS'] : ['Suspension', 'in PBS with']"}},
            "y": {"field": "y", "type": "quantitative", "scale": {"domain": [0, 35], "nice": false},
              "axis": {"offset": -309.7, "values": [0, 5, 10, 15, 20, 25, 30, 35], "tickSize": 7.7, "labelPadding": 11, "labelFontSize": 21, "title": ["Bioluminescence Activity", "(10³ RLU/mg protein)"], "titleFontSize": 23, "titleFontWeight": "bold", "titleLineHeight": 30, "titleAlign": "center", "titleX": -77.7, "titleY": 148.3, "titlePadding": 6}}
          }
        },
        {
          "data": {"name": "c_br"},
          "mark": {"type": "text", "text": "<0.001", "fontSize": 18, "align": "left", "baseline": "alphabetic", "dy": -18},
          "encoding": {
            "x": {"field": "from", "type": "nominal", "bandPosition": 0.77, "scale": {"domain": ["Adherent", "Suspension in PBS with Ca/Mg/Glucose", "Suspension in PBS"], "paddingInner": 0, "paddingOuter": 0, "range": [309.7, 650.3]},
              "axis": {"title": "Ca/Mg/Glucose", "titleFontSize": 20, "titleFontWeight": "normal", "titleX": 493, "titleY": 88.4, "titleAlign": "center", "titleBaseline": "alphabetic", "labelAngle": 0, "labelFontSize": 19.5, "labelPadding": 10.5, "labelLineHeight": 27, "tickBand": "extent", "tickSize": 7, "labelExpr": "!datum.value ? '' : datum.value == 'Adherent' ? 'Adherent' : datum.value == 'Suspension in PBS' ? ['Suspension', 'in PBS'] : ['Suspension', 'in PBS with']"}},
            "y": {"field": "y", "type": "quantitative", "scale": {"domain": [0, 35], "nice": false},
              "axis": {"offset": -309.7, "values": [0, 5, 10, 15, 20, 25, 30, 35], "tickSize": 7.7, "labelPadding": 11, "labelFontSize": 21, "title": ["Bioluminescence Activity", "(10³ RLU/mg protein)"], "titleFontSize": 23, "titleFontWeight": "bold", "titleLineHeight": 30, "titleAlign": "center", "titleX": -77.7, "titleY": 148.3, "titlePadding": 6}}
          }
        }
      ]
    }
  ],
  "spacing": 115.2
}
